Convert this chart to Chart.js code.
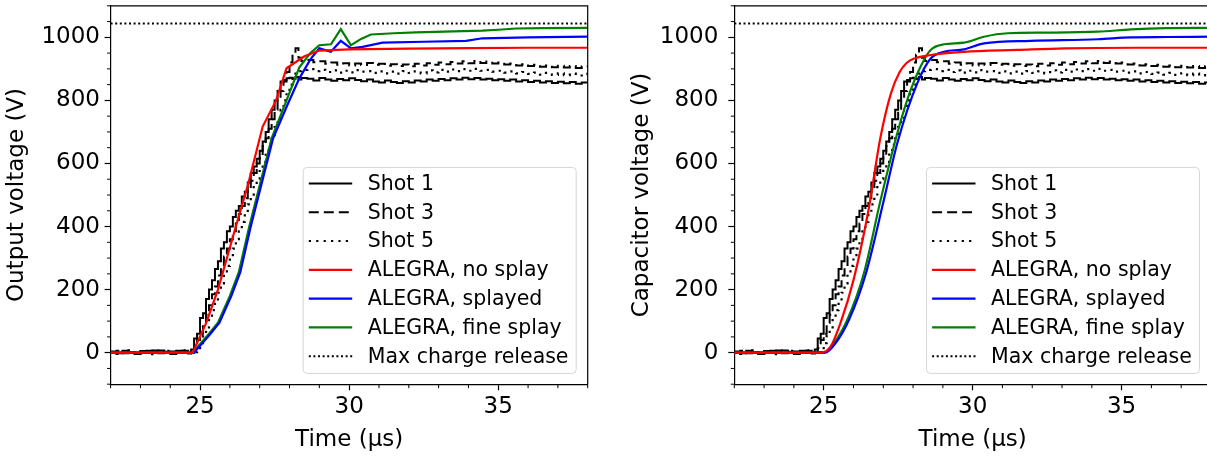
<!DOCTYPE html>
<html>
<head>
<meta charset="utf-8">
<script src="https://cdn.jsdelivr.net/npm/chart.js@4.4.1/dist/chart.umd.min.js"></script>
<style>
  html, body { margin: 0; padding: 0; background: #fff; overflow: hidden; }
  body { width: 1207px; height: 457px; position: relative; }
  .panel { position: absolute; top: 0; }
</style>
</head>
<body>
<div class="panel" style="left:0px"><canvas id="left" width="600" height="457"></canvas></div>
<div class="panel" style="left:620px"><canvas id="right" width="600" height="457"></canvas></div>
<script>
const FONT = "'DejaVu Sans', 'Liberation Sans', sans-serif";

const legendLabels = ['Shot 1', 'Shot 3', 'Shot 5', 'ALEGRA, no splay', 'ALEGRA, splayed', 'ALEGRA, fine splay', 'Max charge release'];
const xTicks = [25, 30, 35];
const yTicks = [0, 200, 400, 600, 800, 1000];

// measured shots (same traces in both panels), time in us
const shotTime = [
  22.0, 22.2, 22.4, 22.6, 22.8, 23.0, 23.2, 23.4, 23.6, 23.8, 24.0, 24.2, 24.4, 24.6,
  24.7, 24.8, 24.9, 25.0, 25.1, 25.2, 25.3, 25.4, 25.5, 25.6, 25.7, 25.8, 25.9, 26.0, 26.1, 26.2, 26.3, 26.4, 26.5,
  26.6, 26.7, 26.8, 26.9, 27.0, 27.1, 27.2, 27.3, 27.4, 27.5, 27.6, 27.7, 27.8, 27.9, 28.0, 28.1, 28.2, 28.3, 28.4,
  28.6, 28.8, 29.0, 29.2, 29.4, 29.6, 29.8, 30.0, 30.2, 30.4, 30.6, 30.8, 31.0, 31.2, 31.4, 31.6, 31.8, 32.0, 32.2, 32.4,
  32.6, 32.8, 33.0, 33.2, 33.4, 33.6, 33.8, 34.0, 34.2, 34.4, 34.6, 34.8, 35.0, 35.2, 35.4, 35.6, 35.8, 36.0, 36.2, 36.4,
  36.6, 36.8, 37.0, 37.2, 37.4, 37.6, 37.8, 38.0
];
const shot1 = [
  4, -2, 6, 1, -4, 5, 0, 7, -2, 3, -4, 6, 1, -3,
  10, 45, 60, 110, 125, 170, 200, 230, 265, 290, 330, 350, 385, 400, 430, 450, 465, 495, 510,
  540, 570, 590, 615, 640, 670, 700, 740, 770, 800, 830, 860, 865, 870, 872, 868, 874, 866, 871,
  869, 863, 871, 866, 862, 868, 864, 870, 865, 861, 866, 860, 857, 863, 858, 855, 861, 857, 863, 860,
  866, 862, 868, 864, 870, 866, 872, 867, 871, 866, 869, 864, 867, 862, 866, 860, 864, 858, 862, 857,
  861, 855, 859, 854, 858, 853, 857, 855
];
const shot3 = [
  2, 6, -2, 5, 0, -3, 6, 1, 7, -1, 4, 0, 6, -2,
  0, 15, 40, 60, 95, 120, 150, 185, 210, 245, 270, 305, 330, 360, 385, 410, 440, 465, 490,
  515, 545, 570, 600, 625, 655, 680, 710, 740, 770, 800, 830, 860, 890, 920, 945, 965, 935, 925,
  928, 921, 924, 916, 920, 913, 918, 911, 917, 912, 919, 913, 916, 910, 915, 909, 914, 908, 916, 911,
  918, 913, 920, 915, 922, 917, 924, 918, 925, 919, 923, 917, 920, 914, 917, 911, 915, 909, 913, 907,
  911, 905, 910, 904, 909, 903, 908, 905
];
const shot5 = [
  1, -4, 3, 7, -1, 3, -5, 4, 0, 6, -3, 3, 7, 0,
  0, 2, 10, 30, 55, 80, 110, 135, 165, 190, 220, 250, 275, 305, 330, 360, 385, 415, 440,
  470, 495, 525, 550, 580, 605, 635, 660, 690, 715, 745, 770, 800, 825, 850, 870, 885, 893, 897,
  899, 893, 897, 890, 895, 888, 894, 889, 896, 891, 893, 887, 892, 886, 891, 885, 893, 887, 892, 886,
  895, 889, 897, 891, 898, 893, 899, 894, 900, 894, 897, 891, 894, 888, 892, 886, 890, 884, 888, 882,
  887, 881, 886, 880, 885, 879, 884, 881
];

// left panel: output voltage, ALEGRA runs
const leftRedT = [22, 24.75, 25.2, 25.6, 26.2, 26.6, 27.1, 27.55, 27.9, 28.5, 29.0, 30.0, 32.0, 34.0, 36.0, 38.0];
const leftRedV = [0, 0, 93, 200, 400, 530, 717, 800, 902, 940, 958, 962, 964, 966, 967, 967];
const leftBlueT = [22, 24.8, 25.35, 25.65, 26.05, 26.35, 26.7, 27.05, 27.45, 27.95, 28.33, 28.7, 29.0, 29.39, 29.72, 30.06, 30.45, 31.12, 32.5, 33.92, 34.47, 36.0, 38.0];
const leftBlueV = [0, 0, 60, 95, 180, 255, 400, 530, 680, 790, 870, 930, 965, 954, 989, 965, 970, 983, 986, 989, 997, 1000, 1002];
const leftGreenT = [22, 24.75, 25.3, 25.6, 26.0, 26.3, 26.65, 27.0, 27.4, 27.9, 28.33, 28.7, 29.0, 29.39, 29.72, 30.06, 30.4, 30.73, 31.5, 32.24, 33.5, 34.47, 35.0, 35.6, 36.5, 38.0];
const leftGreenV = [0, 0, 60, 95, 180, 255, 400, 530, 680, 800, 905, 950, 975, 978, 1026, 975, 995, 1009, 1013, 1016, 1019, 1021, 1024, 1028, 1029, 1030];

// right panel: capacitor voltage, ALEGRA runs
const rightRedT = [22, 24.89, 25.23, 25.56, 26.0, 26.5, 26.9, 27.25, 27.55, 27.8, 28.05, 28.59, 29.71, 31.5, 33.07, 35.5, 38.0];
const rightRedV = [0, 0, 19, 93, 230, 450, 680, 820, 890, 920, 933, 944, 954, 960, 965, 967, 967];
const rightBlueT = [22, 25.05, 25.4, 25.85, 26.42, 27.02, 27.47, 28.14, 28.59, 29.04, 29.71, 30.38, 31.95, 34.2, 35.32, 36.5, 38.0];
const rightBlueV = [0, 0, 30, 104, 252, 484, 664, 854, 933, 954, 962, 981, 989, 994, 1000, 1001, 1002];
const rightGreenT = [22, 25.0, 25.34, 25.79, 26.35, 26.91, 27.47, 27.92, 28.25, 28.59, 29.04, 29.71, 30.38, 31.17, 32.5, 34.2, 35.32, 36.5, 38.0];
const rightGreenV = [0, 0, 30, 104, 252, 484, 696, 833, 907, 960, 978, 983, 1002, 1013, 1015, 1018, 1025, 1029, 1030];

const maxChargeT = [22, 38];
const maxChargeV = [1044, 1044];

function xy(times, values) {
  return times.map((t, i) => ({ x: t, y: values[i] }));
}

const boxLegend = {
  id: 'boxLegend',
  afterDatasetsDraw(chart, args, opts) {
    const { ctx, chartArea } = chart;
    const w = 273, h = 206;
    const left = chartArea.right - opts.right - w;
    const top = chartArea.bottom - opts.bottom - h;
    ctx.save();
    ctx.beginPath();
    ctx.roundRect(left, top, w, h, 4);
    ctx.fillStyle = 'rgba(255,255,255,0.85)';
    ctx.fill();
    ctx.strokeStyle = '#d6d6d6';
    ctx.lineWidth = 1;
    ctx.stroke();
    ctx.font = '20.5px ' + FONT;
    ctx.textBaseline = 'middle';
    chart.data.datasets.forEach((ds, i) => {
      const y = top + 16 + i * 28.8;
      ctx.beginPath();
      ctx.setLineDash(ds.borderDash || []);
      ctx.strokeStyle = ds.borderColor;
      ctx.lineWidth = ds.borderWidth;
      ctx.moveTo(left + 5.6, y);
      ctx.lineTo(left + 49, y);
      ctx.stroke();
      ctx.setLineDash([]);
      ctx.fillStyle = '#000';
      ctx.fillText(ds.label, left + 64.6, y + 1);
    });
    ctx.restore();
  }
};

const axesFrame = {
  id: 'axesFrame',
  afterDraw(chart) {
    const { ctx, chartArea: a, scales: { x, y } } = chart;
    ctx.save();
    ctx.strokeStyle = '#000';
    ctx.lineWidth = 1.2;
    ctx.beginPath();
    ctx.moveTo(a.left, a.top);
    ctx.lineTo(a.right, a.top);
    ctx.lineTo(a.right, a.bottom);
    ctx.stroke();
    // minor ticks
    ctx.lineWidth = 1;
    ctx.beginPath();
    for (let v = y.min; v <= y.max; v += 50) {
      if (yTicks.includes(v)) continue;
      const py = y.getPixelForValue(v);
      ctx.moveTo(a.left, py);
      ctx.lineTo(a.left - 3.5, py);
    }
    for (let t = Math.ceil(x.min); t <= x.max; t += 1) {
      if (xTicks.includes(t)) continue;
      const px = x.getPixelForValue(t);
      ctx.moveTo(px, a.bottom);
      ctx.lineTo(px, a.bottom + 4);
    }
    ctx.stroke();
    ctx.restore();
  }
};

function makeChart(canvas, cfg) {
  const smooth = cfg.smooth ? 'monotone' : 'default';
  const datasets = [
    { label: legendLabels[0], data: xy(shotTime, shot1), borderColor: '#000000', borderWidth: 2, stepped: true, order: 1 },
    { label: legendLabels[1], data: xy(shotTime, shot3), borderColor: '#000000', borderWidth: 2, borderDash: [10, 5], stepped: true, order: 1 },
    { label: legendLabels[2], data: xy(shotTime, shot5), borderColor: '#000000', borderWidth: 2.2, borderDash: [2.2, 5.2], stepped: true, order: 1 },
    { label: legendLabels[3], data: xy(cfg.redT, cfg.redV), borderColor: '#ff0000', borderWidth: 2.2, cubicInterpolationMode: smooth, order: 0 },
    { label: legendLabels[4], data: xy(cfg.blueT, cfg.blueV), borderColor: '#0000ff', borderWidth: 2.2, cubicInterpolationMode: smooth, order: 0 },
    { label: legendLabels[5], data: xy(cfg.greenT, cfg.greenV), borderColor: '#008000', borderWidth: 2.2, cubicInterpolationMode: smooth, order: 0 },
    { label: legendLabels[6], data: xy(maxChargeT, maxChargeV), borderColor: '#000000', borderWidth: 2, borderDash: [2, 2.6], order: 0 }
  ];

  return new Chart(canvas, {
    type: 'line',
    data: { datasets: datasets },
    options: {
      responsive: false,
      animation: false,
      events: [],
      elements: { point: { radius: 0 }, line: { tension: 0 } },
      layout: { padding: { top: 5.8, right: cfg.padRight, left: 0, bottom: 0 } },
      scales: {
        x: {
          type: 'linear',
          min: 22,
          max: 38,
          afterBuildTicks: s => { s.ticks = xTicks.map(v => ({ value: v })); },
          afterFit: s => { s.height = 72.8; s.paddingLeft = 0; s.paddingRight = 0; },
          grid: { drawOnChartArea: false, drawTicks: true, tickLength: 6, tickWidth: 1.2, tickColor: '#000' },
          border: { display: true, color: '#000', width: 1.2 },
          ticks: { color: '#000', autoSkip: false, maxRotation: 0, padding: 3, font: { family: FONT, size: 23 }, callback: v => String(v) },
          title: { display: true, text: 'Time (μs)', color: '#000', font: { family: FONT, size: 23 }, padding: { top: 0, bottom: 3.2 } }
        },
        y: {
          min: -100,
          max: 1100,
          afterBuildTicks: s => { s.ticks = yTicks.map(v => ({ value: v })); },
          afterFit: s => { s.width = cfg.axisLeft; s.paddingTop = 0; s.paddingBottom = 0; },
          grid: { drawOnChartArea: false, drawTicks: true, tickLength: 6, tickWidth: 1.2, tickColor: '#000' },
          border: { display: true, color: '#000', width: 1.2 },
          ticks: { color: '#000', autoSkip: false, padding: cfg.tickPad, font: { family: FONT, size: 23 }, callback: v => String(v) },
          title: { display: true, text: cfg.yTitle, color: '#000', font: { family: FONT, size: 23 }, padding: { top: cfg.titlePad, bottom: 0 } }
        }
      },
      plugins: {
        legend: { display: false },
        tooltip: { enabled: false },
        boxLegend: { right: 11.5, bottom: 10.8 }
      }
    },
    plugins: [boxLegend, axesFrame]
  });
}

makeChart(document.getElementById('left'), {
  yTitle: 'Output voltage (V)', axisLeft: 110.6, padRight: 12.3, tickPad: 4.6, titlePad: 3.7, smooth: false,
  redT: leftRedT, redV: leftRedV, blueT: leftBlueT, blueV: leftBlueV, greenT: leftGreenT, greenV: leftGreenV
});
makeChart(document.getElementById('right'), {
  yTitle: 'Capacitor voltage (V)', axisLeft: 114.3, padRight: 9, tickPad: 10, titlePad: 8.2, smooth: true,
  redT: rightRedT, redV: rightRedV, blueT: rightBlueT, blueV: rightBlueV, greenT: rightGreenT, greenV: rightGreenV
});
</script>
</body>
</html>
